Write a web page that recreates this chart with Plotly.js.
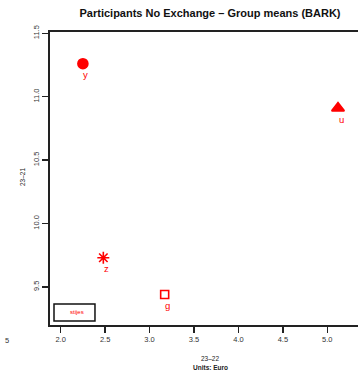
<!DOCTYPE html>
<html>
<head>
<meta charset="utf-8">
<script src="https://cdn.plot.ly/plotly-3.0.1.min.js"></script>
<style>
  html, body { margin: 0; padding: 0; overflow: hidden; background: #fff; }
  #chart { width: 400px; height: 375px; }
</style>
</head>
<body>
<div id="chart"></div>
<script>
// Group means: change 23–22 (x) against change 23–21 (y)
const groups = ['y', 'u', 'z', 'g'];
const xVals = [2.25, 5.12, 2.48, 3.17];
const yVals = [11.26, 10.91, 9.73, 9.44];
const markerSymbols = ['circle', 'triangle-up', 'asterisk', 'square-open'];
const markerSizes = [10, 11, 10, 8];

const xTicks = [2.0, 2.5, 3.0, 3.5, 4.0, 4.5, 5.0];
const yTicks = [9.5, 10.0, 10.5, 11.0, 11.5];
const legendText = 'stijes';

const red = '#ff0000';
const axisColor = '#222';
const tickFont = { family: 'Liberation Sans, Arial, sans-serif', size: 7.5, color: '#333' };

const trace = {
  type: 'scatter',
  mode: 'markers',
  x: xVals,
  y: yVals,
  marker: {
    symbol: markerSymbols,
    size: markerSizes,
    color: red,
    opacity: 1,
    line: { color: red, width: 1.6 }
  },
  hoverinfo: 'skip',
  showlegend: false
};

// point labels, placed just below-right of each marker
const pointLabels = groups.map((g, i) => ({
  x: xVals[i], y: yVals[i], xref: 'x', yref: 'y',
  text: g, showarrow: false,
  xshift: 3, yshift: -11,
  font: { family: 'Liberation Sans, Arial, sans-serif', size: 9.5, color: red }
}));

const layout = {
  width: 400,
  height: 375,
  margin: { l: 50, r: 30, t: 32, b: 50 },
  paper_bgcolor: '#fff',
  plot_bgcolor: '#fff',
  title: {
    text: '<b>Participants No Exchange – Group means (BARK)</b>',
    font: { family: 'Liberation Sans, Arial, sans-serif', size: 11, color: '#111' },
    x: 0.5, xref: 'paper',
    y: 1 - 13 / 375, yref: 'container', yanchor: 'middle'
  },
  xaxis: {
    range: [1.88, 5.48],
    tickvals: xTicks,
    ticktext: xTicks.map(v => v.toFixed(1)),
    ticks: 'outside', ticklen: 6, tickwidth: 1.3, tickcolor: axisColor,
    showline: true, linecolor: axisColor, linewidth: 1.8, mirror: true,
    showgrid: false, zeroline: false,
    tickfont: tickFont
  },
  yaxis: {
    range: [9.2, 11.51],
    tickvals: yTicks,
    ticktext: yTicks.map(v => v.toFixed(1)),
    tickangle: -90,
    ticks: 'outside', ticklen: 6, tickwidth: 1.3, tickcolor: axisColor,
    showline: true, linecolor: axisColor, linewidth: 1.8, mirror: true,
    showgrid: false, zeroline: false,
    tickfont: tickFont
  },
  shapes: [
    {
      type: 'rect', xref: 'x', yref: 'y',
      x0: 1.925, x1: 2.386, y0: 9.232, y1: 9.366,
      line: { color: '#111', width: 1.5 }, fillcolor: 'rgba(0,0,0,0)'
    }
  ],
  annotations: pointLabels.concat([
    {
      x: 2.184, y: 9.299, xref: 'x', yref: 'y',
      text: legendText, showarrow: false,
      font: { family: 'Liberation Sans, Arial, sans-serif', size: 6, color: red }
    },
    {
      x: (210 - 50) / 320, y: 0, xref: 'paper', yref: 'paper',
      yanchor: 'middle', yshift: -33,
      text: '23–22', showarrow: false,
      font: { family: 'Liberation Sans, Arial, sans-serif', size: 6.5, color: '#222' }
    },
    {
      x: (210 - 50) / 320, y: 0, xref: 'paper', yref: 'paper',
      yanchor: 'middle', yshift: -42,
      text: '<b>Units: Euro</b>', showarrow: false,
      font: { family: 'Liberation Sans, Arial, sans-serif', size: 6.5, color: '#222' }
    },
    {
      x: (16.5 - 50) / 320, y: (325 - 177) / 293, xref: 'paper', yref: 'paper',
      textangle: -90,
      text: '23–21', showarrow: false,
      font: { family: 'Liberation Sans, Arial, sans-serif', size: 6.5, color: '#222' }
    },
    {
      x: (3 - 50) / 320, y: 0, xref: 'paper', yref: 'paper',
      yanchor: 'middle', yshift: -15,
      text: '5', showarrow: false,
      font: tickFont
    }
  ])
};

Plotly.newPlot('chart', [trace], layout, { staticPlot: true, displayModeBar: false });
</script>
</body>
</html>
